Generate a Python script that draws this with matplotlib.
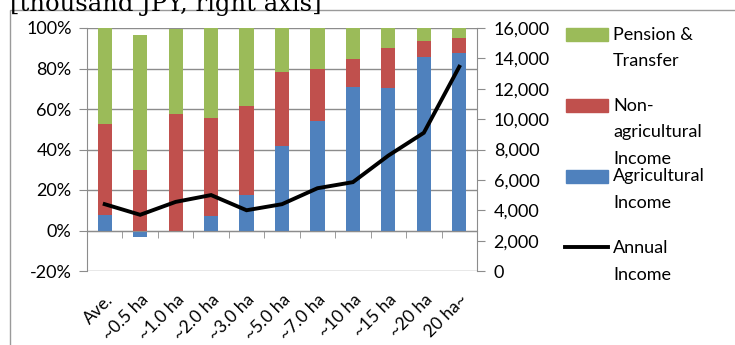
import matplotlib
matplotlib.use("Agg")
import matplotlib.pyplot as plt
import matplotlib.patches as mpatches
import matplotlib.lines as mlines
import matplotlib.transforms as mtransforms
from matplotlib.ticker import FixedLocator, FuncFormatter

plt.rcParams['font.family'] = ['Lato', 'DejaVu Sans']

# Farm size classes
categories = ["Ave.", "~0.5 ha", "~1.0 ha", "~2.0 ha", "~3.0 ha", "~5.0 ha",
              "~7.0 ha", "~10 ha", "~15 ha", "~20 ha", "20 ha~"]

# Income composition (% of total)
agricultural = [7.7, -3.3, 0.0, 7.0, 17.5, 41.8, 54.2, 70.9, 70.3, 85.7, 87.8]
non_agricultural = [45.0, 30.1, 57.3, 48.7, 44.1, 36.7, 25.5, 13.8, 19.8, 7.7, 7.3]
pension_transfer = [47.3, 66.6, 42.2, 44.3, 38.4, 21.5, 20.3, 15.3, 9.9, 6.6, 4.9]

# Annual income (thousand JPY, right axis)
annual_income = [4400, 3700, 4550, 5000, 4000, 4400, 5450, 5850, 7600, 9100, 13450]

left_ticks = [-20, 0, 20, 40, 60, 80, 100]
right_ticks = [0, 2000, 4000, 6000, 8000, 10000, 12000, 14000, 16000]

C_GREEN = "#9BBB59"
C_RED = "#C0504D"
C_BLUE = "#4F81BD"
GRID = "#8c8c8c"
FS = 13

W, H = 735, 345
fig = plt.figure(figsize=(W / 100, H / 100), dpi=100)

# outer chart frame
frame = mpatches.Rectangle((9.5 / W, -0.1), 1.2, 1 - 10 / H + 0.1,
                           transform=fig.transFigure, fill=False,
                           edgecolor="#9a9a9a", lw=1.0)
fig.patches.append(frame)

fig.text(10 / W, 1 - 11 / H, "[thousand JPY, right axis]", family="DejaVu Serif",
         fontsize=17.5, va="baseline", ha="left", color="black")

ax = fig.add_axes([87 / W, 1 - 271 / H, (477 - 87) / W, (271 - 28) / H])
x = list(range(len(categories)))
width = 0.4

# stacking: positives pile up from 0, negatives go down from 0
agri_pos = [max(v, 0) for v in agricultural]
ax.bar(x, agricultural, width, color=C_BLUE, zorder=3)
ax.bar(x, non_agricultural, width, bottom=agri_pos, color=C_RED, zorder=3)
bottom2 = [a + b for a, b in zip(agri_pos, non_agricultural)]
ax.bar(x, pension_transfer, width, bottom=bottom2, color=C_GREEN, zorder=3)

ax.set_xlim(-0.5, len(categories) - 0.5)
ax.set_ylim(-20, 100)
ax.yaxis.set_major_locator(FixedLocator(left_ticks))
ax.yaxis.set_major_formatter(FuncFormatter(lambda v, p: f"{v:.0f}%"))
for t in left_ticks:
    ax.axhline(t, color=GRID, lw=1.0, zorder=1)

for s in ["top", "right"]:
    ax.spines[s].set_visible(False)
ax.spines["left"].set_color(GRID)
ax.spines["bottom"].set_color(GRID)
ax.spines["bottom"].set_position(("data", 0))
ax.spines["bottom"].set_zorder(4)
ax.tick_params(axis="y", direction="out", length=6, color=GRID, labelsize=FS, pad=5)

ax.set_xticks(x)
ax.set_xticklabels(categories, rotation=45, ha="right", rotation_mode="anchor",
                   fontsize=12.5)
shift = mtransforms.ScaledTranslation(4 / 100, 0, fig.dpi_scale_trans)
for lbl in ax.get_xticklabels():
    lbl.set_transform(lbl.get_transform() + shift)
ax.set_xticks([i + 0.5 for i in x[:-1]], minor=True)
ax.tick_params(axis="x", which="major", length=0, pad=44)
ax.tick_params(axis="x", which="minor", length=5, color=GRID, direction="out")

ax2 = ax.twinx()
ax2.plot(x, annual_income, color="black", lw=2.8, zorder=5, solid_joinstyle="miter")
ax2.set_ylim(0, 16000)
ax2.yaxis.set_major_locator(FixedLocator(right_ticks))
ax2.yaxis.set_major_formatter(FuncFormatter(lambda v, p: f"{v:,.0f}"))
for s in ["top", "left", "bottom"]:
    ax2.spines[s].set_visible(False)
ax2.spines["right"].set_color(GRID)
ax2.tick_params(axis="y", direction="out", length=6, color=GRID, labelsize=FS, pad=6)

# legend
def fx(px):
    return px / W

def fy(py):
    return 1 - py / H

legend_items = [
    ("patch", C_GREEN, 34, ["Pension &", "Transfer"], 35),
    ("patch", C_RED, 105, ["Non-", "agricultural", "Income"], 106),
    ("patch", C_BLUE, 176, ["Agricultural", "Income"], 176),
    ("line", "black", 247, ["Annual", "Income"], 248),
]
for kind, col, ym, lines, ty in legend_items:
    if kind == "patch":
        fig.patches.append(mpatches.Rectangle((fx(566), fy(ym + 6.5)), fx(42), 13 / H,
                                              transform=fig.transFigure, color=col))
    else:
        fig.lines.append(mlines.Line2D([fx(565), fx(608)], [fy(ym), fy(ym)],
                                       transform=fig.transFigure, color=col, lw=2.8))
    for i, s in enumerate(lines):
        fig.text(fx(613), fy(ty + i * 26.5), s, fontsize=FS, va="center", ha="left")

fig.savefig("out.png", dpi=100)
